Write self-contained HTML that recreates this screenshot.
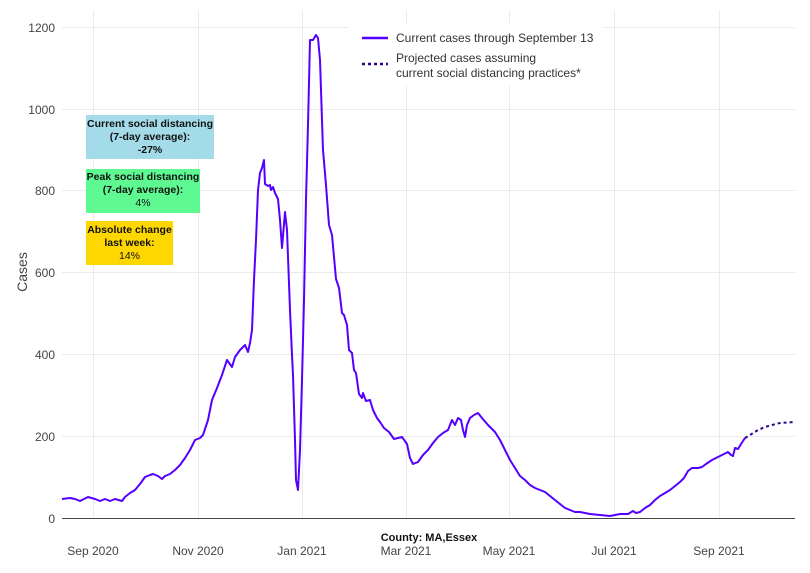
<!DOCTYPE html>
<html><head><meta charset="utf-8"><style>
body{margin:0;background:#fff;font-family:"Liberation Sans",sans-serif;}
.b{position:absolute;font-size:10.5px;font-weight:bold;text-align:center;line-height:13px;color:#111;}
</style></head><body>
<div style="position:relative;width:810px;height:573px;overflow:hidden">
<svg width="810" height="573" style="position:absolute;left:0;top:0" font-family="Liberation Sans, sans-serif">
<g stroke="#ebebeb" stroke-width="1">
<line x1="62" x2="795" y1="436.5" y2="436.5"/><line x1="62" x2="795" y1="354.5" y2="354.5"/>
<line x1="62" x2="795" y1="272.5" y2="272.5"/><line x1="62" x2="795" y1="190.5" y2="190.5"/>
<line x1="62" x2="795" y1="109.5" y2="109.5"/><line x1="62" x2="795" y1="27.5" y2="27.5"/>
<line x1="93.5" x2="93.5" y1="10" y2="518"/><line x1="198.5" x2="198.5" y1="10" y2="518"/>
<line x1="302.5" x2="302.5" y1="10" y2="518"/><line x1="406.5" x2="406.5" y1="10" y2="518"/>
<line x1="509.5" x2="509.5" y1="10" y2="518"/><line x1="614.5" x2="614.5" y1="10" y2="518"/>
<line x1="719.5" x2="719.5" y1="10" y2="518"/>
</g>
<line x1="62" x2="795" y1="518.5" y2="518.5" stroke="#444"/>
<g font-size="12" fill="#444" text-anchor="end">
<text x="55" y="523">0</text><text x="55" y="441">200</text><text x="55" y="359">400</text>
<text x="55" y="277">600</text><text x="55" y="195">800</text><text x="55" y="114">1000</text><text x="55" y="32">1200</text>
</g>
<g font-size="12" fill="#444" text-anchor="middle">
<text x="93" y="555">Sep 2020</text><text x="198" y="555">Nov 2020</text><text x="302" y="555">Jan 2021</text>
<text x="406" y="555">Mar 2021</text><text x="509" y="555">May 2021</text><text x="614" y="555">Jul 2021</text><text x="719" y="555">Sep 2021</text>
</g>
<text x="429" y="541" font-size="11" font-weight="bold" text-anchor="middle" fill="#111">County: MA,Essex</text>
<text transform="translate(27,272) rotate(-90)" font-size="14" fill="#444" text-anchor="middle">Cases</text>
<rect x="348" y="24" width="255" height="62" fill="#fff"/>
<line x1="362" x2="388" y1="38" y2="38" stroke="#5500ff" stroke-width="2.5"/>
<line x1="362" x2="388" y1="64" y2="64" stroke="#2a0090" stroke-width="2.5" stroke-dasharray="3,3"/>
<g font-size="12" fill="#333"><text x="396" y="42">Current cases through September 13</text>
<text x="396" y="62">Projected cases assuming</text><text x="396" y="77">current social distancing practices*</text></g>
<polyline fill="none" stroke="#5500ff" stroke-width="2" stroke-linejoin="round" points="62,499 70,498 75,499 80,501 88,497 95,499 100,501 105,499 110,501 115,499 122,501 125,497 130,493 135,490 140,484 145,477 150,475 153,474 158,476 162,479 165,476 170,474 175,470 180,465 185,458 190,450 195,440 200,438 203,435 208,420 212,400 217,388 222,375 227,360 232,367 235,357 240,350 245,345 248,352 250,343 252,330 254,280 256,240 258,190 260,173 262,168 264,160 265,184 268,186 270,185 271,190 273,187 275,193 278,199 280,220 282,248 285,212 287,230 290,310 292,355 293,375 295,440 296,480 298,490 300,450 302,380 304,300 306,200 308,125 310,40 313,40 316,35 318,38 320,60 323,150 326,185 329,225 332,235 336,279 339,288 342,313 344,315 347,325 349,350 352,353 354,370 356,373 359,394 362,398 363,393 366,401 370,400 373,410 377,418 380,422 384,428 389,432 394,439 398,438 402,437 407,444 410,458 413,464 418,462 423,455 428,450 433,443 438,437 443,433 448,430 452,420 455,425 458,418 461,420 463,430 465,437 467,425 470,418 474,415 478,413 482,418 488,425 495,432 500,440 505,450 510,460 515,468 520,476 525,480 530,485 535,488 540,490 545,492 550,496 555,500 560,504 565,508 570,510 575,512 580,512 590,514 600,515 610,516 620,514 628,514 633,511 636,513 640,512 645,508 650,505 655,500 660,496 665,493 670,490 675,486 680,482 684,478 688,471 692,468 698,468 702,467 706,464 712,460 716,458 722,455 728,452 731,455 733,456 735,448 738,449 741,444 745,438"/>
<polyline fill="none" stroke="#2a0090" stroke-width="2" stroke-dasharray="3,3" points="745,438 750,435 758,430 765,427 772,425 780,423 795,422"/>
</svg>
<div class="b" style="left:86px;top:115px;width:128px;height:44px;background:#a3dbe9;padding-top:3px;box-sizing:border-box">Current social distancing<br>(7-day average):<br>-27%</div>
<div class="b" style="left:86px;top:169px;width:114px;height:44px;background:#5ef991;padding-top:2px;box-sizing:border-box">Peak social distancing<br>(7-day average):<br><span style="font-weight:normal">4%</span></div>
<div class="b" style="left:86px;top:221px;width:87px;height:44px;background:#ffd700;padding-top:3px;box-sizing:border-box">Absolute change<br>last week:<br><span style="font-weight:normal">14%</span></div>
</div>
</body></html>
